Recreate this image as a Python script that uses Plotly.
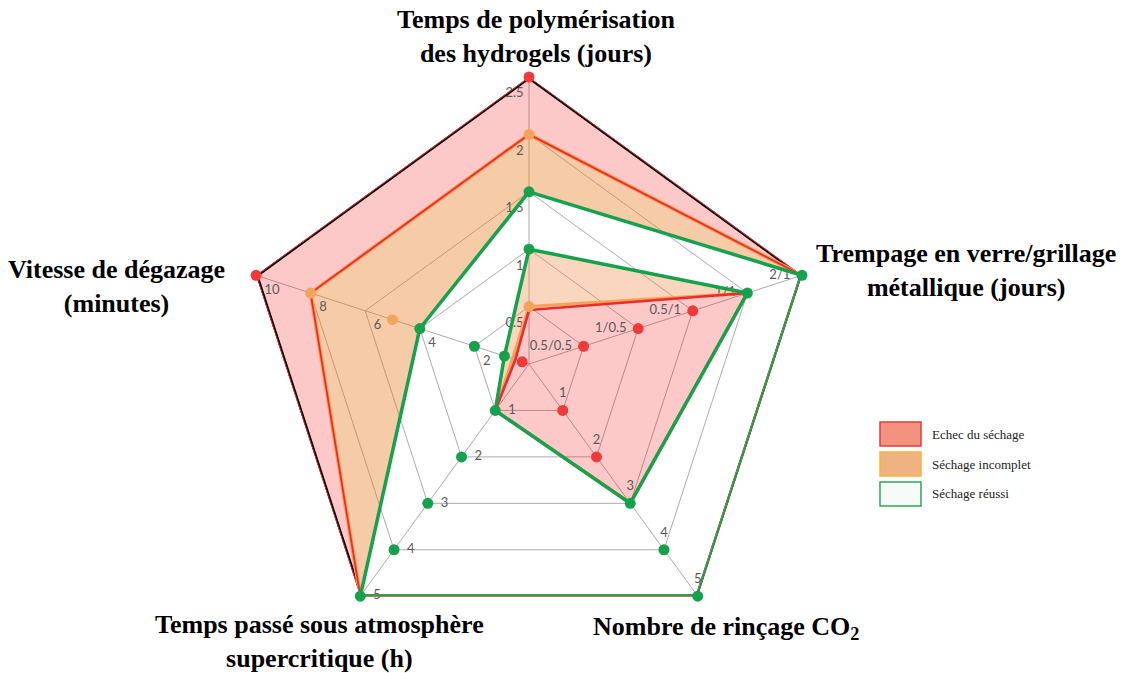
import plotly.graph_objects as go

W, H = 1124, 673

# ---------------- data ----------------
CATEGORIES = ["polymerisation", "trempage", "rincage", "supercritique", "degazage"]

TICKS_POLYMERISATION = ["0.5", "1", "1.5", "2", "2.5"]
TICKS_TREMPAGE = ["0.5/0.5", "1/0.5", "0.5/1", "1/1", "2/1"]
TICKS_RINCAGE = ["1", "2", "3", "4", "5"]
TICKS_SUPERCRITIQUE = ["1", "2", "3", "4", "5"]
TICKS_DEGAZAGE = ["2", "4", "6", "8", "10"]

AXIS_TITLES = [
    "Temps de polymérisation<br>des hydrogels (jours)",
    "Trempage en verre/grillage<br>métallique (jours)",
    "Nombre de rinçage CO<sub>2</sub>",
    "Temps passé sous atmosphère<br>supercritique (h)",
    "Vitesse de dégazage<br>(minutes)",
]

SERIES_NAMES = ["Echec du séchage", "Séchage incomplet", "Séchage réussi"]

# polygon boundaries, one value per axis (CATEGORIES order)
ECHEC_EXT = [2.5, "2/1", 5, 5, 10]
INCOMPLET_EXT = [2.0, "2/1", 5, 5, 8]
REUSSI_EXT = [1.5, "2/1", 5, 5, 4]
REUSSI_INT = [1.0, "1/1", 3, 1, 0.9]
INCOMPLET_INT = [0.5, "1/1", 3, 1, 0.6]
ECHEC_INT = [0.47, "1/1", 3, 1, 0.5]

# individual points
ECHEC_PTS_AXE = ["polymerisation", "degazage", "degazage", "trempage", "trempage", "trempage", "rincage", "rincage"]
ECHEC_PTS_VAL = [2.5, 10, 0.25, "0.5/0.5", "1/0.5", "0.5/1", 1, 2]
INCOMPLET_PTS_AXE = ["polymerisation", "polymerisation", "degazage", "degazage"]
INCOMPLET_PTS_VAL = [2.0, 0.5, 8, 5]
REUSSI_PTS_AXE = ["polymerisation", "polymerisation", "trempage", "trempage", "rincage", "rincage", "rincage",
                  "supercritique", "supercritique", "supercritique", "supercritique", "supercritique",
                  "degazage", "degazage", "degazage"]
REUSSI_PTS_VAL = [1.5, 1.0, "1/1", "2/1", 3, 4, 5, 1, 2, 3, 4, 5, 4, 2, 0.9]

# ---------------- styles ----------------
RED = "#EC2C2C"
RED_DOT = "#F03A3A"
ORANGE = "#F3A35A"
GREEN = "#16A14C"
GRID = "#ABABAB"
PINK_FILL = "rgba(246,24,24,0.24)"
PEACH_FILL = "rgba(232,125,37,0.40)"
LIGHT_PEACH_FILL = "rgba(236,132,55,0.33)"
TICK_FONT = dict(family="Lato, Liberation Sans, sans-serif", size=13, color="#595959")
TITLE_FONT = dict(family="Liberation Serif, Times New Roman, serif", size=26, color="#000000", weight="bold")

TICKS = dict(zip(CATEGORIES, [TICKS_POLYMERISATION, TICKS_TREMPAGE, TICKS_RINCAGE,
                              TICKS_SUPERCRITIQUE, TICKS_DEGAZAGE]))


def level(axis, value):
    ticks = TICKS[axis]
    if isinstance(value, str):
        return ticks.index(value) + 1
    return value / float(ticks[0])


def closed(values):
    r = [level(a, v) for a, v in zip(CATEGORIES, values)]
    return r + [r[0]], CATEGORIES + [CATEGORIES[0]]


fig = go.Figure()

# ---------- filled regions ----------
fill_specs = [
    (ECHEC_EXT, "none", None),
    (INCOMPLET_EXT, "tonext", PINK_FILL),
    (REUSSI_EXT, "tonext", PEACH_FILL),
    (REUSSI_INT, "none", None),
    (INCOMPLET_INT, "tonext", LIGHT_PEACH_FILL),
    (ECHEC_INT, "toself", PINK_FILL),
]
for vals, fill, fc in fill_specs:
    r, th = closed(vals)
    fig.add_trace(go.Scatterpolar(
        r=r, theta=th, mode="lines", fill=fill, fillcolor=fc,
        line=dict(color="rgba(0,0,0,0)", width=0.5),
        hoverinfo="skip", showlegend=False))

# ---------- axis tick labels (invisible markers only set the text gap) ----------
tick_pos = {
    "polymerisation": ("middle left", -0.3, 7),
    "trempage": ("middle left", 0.0, 17),
    "rincage": ("top center", 0.0, 14),
    "supercritique": ("middle right", 0.0, 19),
    "degazage": ("bottom right", 0.0, 12),
}
for axis in CATEGORIES:
    pos, dr, gap = tick_pos[axis]
    ticks = TICKS[axis]
    fig.add_trace(go.Scatterpolar(
        r=[level(axis, t if axis == "trempage" else float(t)) + dr for t in ticks],
        theta=[axis] * len(ticks), mode="markers+text", text=ticks,
        marker=dict(size=gap, color="rgba(0,0,0,0)", line=dict(width=0)),
        textposition=pos, textfont=TICK_FONT,
        hoverinfo="skip", showlegend=False))

# ---------- outlines ----------
line_specs = [
    (ECHEC_EXT, "#000000", 4.5),
    (ECHEC_EXT, RED, 1.5),
    (INCOMPLET_EXT, ORANGE, 4.0),
    (INCOMPLET_EXT, RED, 1.8),
    (REUSSI_EXT, GREEN, 3.5),
    (INCOMPLET_INT, ORANGE, 3.2),
    (ECHEC_INT, RED, 2.6),
    (REUSSI_INT, GREEN, 3.5),
]
for vals, col, w in line_specs:
    r, th = closed(vals)
    fig.add_trace(go.Scatterpolar(
        r=r, theta=th, mode="lines", line=dict(color=col, width=w),
        hoverinfo="skip", showlegend=False))

# ---------- points ----------
for axes, vals, col in [
    (ECHEC_PTS_AXE, ECHEC_PTS_VAL, RED_DOT),
    (INCOMPLET_PTS_AXE, INCOMPLET_PTS_VAL, ORANGE),
    (REUSSI_PTS_AXE, REUSSI_PTS_VAL, GREEN),
]:
    fig.add_trace(go.Scatterpolar(
        r=[level(a, v) for a, v in zip(axes, vals)], theta=axes,
        mode="markers", marker=dict(color=col, size=11, line=dict(width=0)),
        hoverinfo="skip", showlegend=False))

# ---------- layout ----------
cx, cy, R = 529, 364, 287
fig.update_layout(
    width=W, height=H,
    margin=dict(l=0, r=0, t=0, b=0),
    paper_bgcolor="white",
    showlegend=False,
    polar=dict(
        domain=dict(x=[(cx - R) / W, (cx + R) / W], y=[(H - cy - R) / H, (H - cy + R) / H]),
        bgcolor="white",
        gridshape="linear",
        radialaxis=dict(range=[0, 5], tickvals=[1, 2, 3, 4, 5], showticklabels=False,
                        ticks="", showline=False, gridcolor=GRID, gridwidth=0.8),
        angularaxis=dict(type="category", categoryarray=CATEGORIES, rotation=90,
                         direction="clockwise", showticklabels=False, ticks="",
                         showline=False, gridcolor=GRID, gridwidth=0.8),
    ),
)


def px(x, y):
    return x / W, 1 - y / H


# axis titles
title_pos = [(536, 36), (966, 270), (726, 628), (319, 641), (116, 286)]
for txt, (x, y) in zip(AXIS_TITLES, title_pos):
    ax_, ay_ = px(x, y)
    fig.add_annotation(x=ax_, y=ay_, xref="paper", yref="paper", text=txt,
                       showarrow=False, xanchor="center", yanchor="middle",
                       align="center", font=TITLE_FONT)

# legend key
legend_style = [("#F3927E", "#E53B3B"), ("#F1B282", "#F5B33E"), ("#F6FBF8", "#2EA65A")]
for i, (name, (fc, lc)) in enumerate(zip(SERIES_NAMES, legend_style)):
    top = 422 + i * 30
    x0, y1 = px(880, top)
    x1, y0 = px(921, top + 24)
    fig.add_shape(type="rect", xref="paper", yref="paper", x0=x0, x1=x1, y0=y0, y1=y1,
                  fillcolor=fc, line=dict(color=lc, width=1.5))
    tx, ty = px(930, top + 12)
    fig.add_annotation(x=tx, y=ty, xref="paper", yref="paper", text=name, showarrow=False,
                       xanchor="left", yanchor="middle",
                       font=dict(family="Liberation Serif, Times New Roman, serif", size=13, color="#222222"))

fig.write_html("out.html", config={"displayModeBar": False},
               post_script="document.body.style.margin='0px';")
